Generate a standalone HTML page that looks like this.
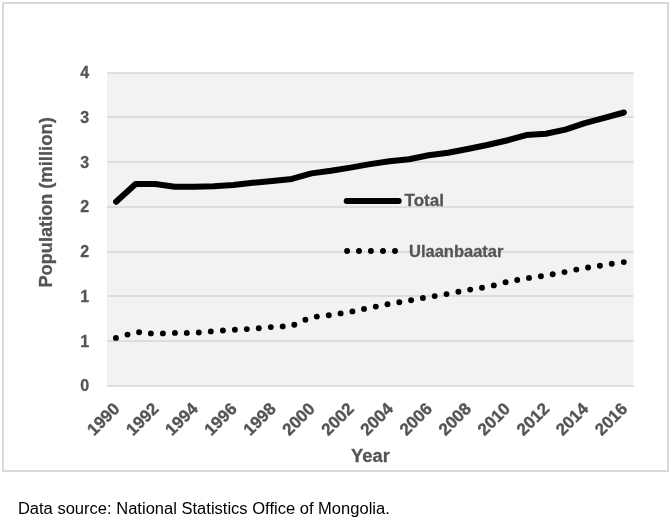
<!DOCTYPE html>
<html lang="en">
<head>
<meta charset="utf-8">
<title>Population of Mongolia and Ulaanbaatar</title>
<style>
html,body{margin:0;padding:0;background:#fff;}
body{width:672px;height:521px;overflow:hidden;position:relative;font-family:"Liberation Sans",sans-serif;}
svg{position:absolute;left:0;top:0;display:block;}
.lbl{font-family:"Liberation Sans",sans-serif;font-weight:bold;fill:#555555;stroke:#555555;stroke-width:0.3px;stroke-linejoin:round;}
.tick{font-size:16px;}
.xt{font-size:17px;stroke-width:0.35px;}
.ttl{font-size:18px;}
.cap{font-family:"Liberation Sans",sans-serif;font-size:16px;fill:#000;}
</style>
</head>
<body>
<svg width="672" height="521" viewBox="0 0 672 521">
<rect x="0" y="0" width="672" height="521" fill="#ffffff"/>
<rect x="3" y="3" width="665" height="468" fill="#ffffff" stroke="#d9d9d9" stroke-width="2"/>
<rect x="107.0" y="73.0" width="526.6" height="313.0" fill="#f2f2f2"/>
<g stroke="#d6d6d6" stroke-width="1.7" fill="none">
<line x1="107.0" y1="73.00" x2="633.6" y2="73.00"/>
<line x1="107.0" y1="117.00" x2="633.6" y2="117.00"/>
<line x1="107.0" y1="162.00" x2="633.6" y2="162.00"/>
<line x1="107.0" y1="207.00" x2="633.6" y2="207.00"/>
<line x1="107.0" y1="252.00" x2="633.6" y2="252.00"/>
<line x1="107.0" y1="296.00" x2="633.6" y2="296.00"/>
<line x1="107.0" y1="341.00" x2="633.6" y2="341.00"/>
<line x1="107.0" y1="386.00" x2="633.6" y2="386.00"/>
</g>
<g class="lbl tick" text-anchor="end">
<text x="89.1" y="77.70">4</text>
<text x="89.1" y="122.70">3</text>
<text x="89.1" y="167.70">3</text>
<text x="89.1" y="211.70">2</text>
<text x="89.1" y="256.70">2</text>
<text x="89.1" y="301.60">1</text>
<text x="89.1" y="346.60">1</text>
<text x="89.1" y="390.80">0</text>
</g>
<g class="lbl xt" text-anchor="end">
<text transform="translate(120.70 409.80) rotate(-45)" x="0" y="0">1990</text>
<text transform="translate(159.76 409.80) rotate(-45)" x="0" y="0">1992</text>
<text transform="translate(198.82 409.80) rotate(-45)" x="0" y="0">1994</text>
<text transform="translate(237.88 409.80) rotate(-45)" x="0" y="0">1996</text>
<text transform="translate(276.94 409.80) rotate(-45)" x="0" y="0">1998</text>
<text transform="translate(316.00 409.80) rotate(-45)" x="0" y="0">2000</text>
<text transform="translate(355.06 409.80) rotate(-45)" x="0" y="0">2002</text>
<text transform="translate(394.12 409.80) rotate(-45)" x="0" y="0">2004</text>
<text transform="translate(433.18 409.80) rotate(-45)" x="0" y="0">2006</text>
<text transform="translate(472.24 409.80) rotate(-45)" x="0" y="0">2008</text>
<text transform="translate(511.30 409.80) rotate(-45)" x="0" y="0">2010</text>
<text transform="translate(550.36 409.80) rotate(-45)" x="0" y="0">2012</text>
<text transform="translate(589.42 409.80) rotate(-45)" x="0" y="0">2014</text>
<text transform="translate(628.48 409.80) rotate(-45)" x="0" y="0">2016</text>
</g>
<text class="lbl ttl" text-anchor="middle" x="370.5" y="461.9" textLength="38.8" lengthAdjust="spacingAndGlyphs">Year</text>
<text class="lbl ttl" transform="translate(51.5 287.5) rotate(-90)"><tspan x="0" y="0" textLength="93.9" lengthAdjust="spacingAndGlyphs">Population</tspan> <tspan x="98.7" y="0" textLength="71.7" lengthAdjust="spacingAndGlyphs">(million)</tspan></text>
<polyline points="116.1,201.8 135.6,184.0 155.2,184.0 174.7,186.8 194.2,186.8 213.8,186.2 233.3,185.1 252.8,182.8 272.3,180.9 291.9,178.9 311.4,173.4 330.9,170.8 350.5,167.6 370.0,164.1 389.5,161.2 409.1,159.2 428.6,155.2 448.1,152.8 467.6,149.0 487.2,145.0 506.7,140.5 526.2,135.1 545.8,133.8 565.3,129.6 584.8,123.1 604.4,117.9 623.9,112.5" fill="none" stroke="#000" stroke-width="6" stroke-linecap="round" stroke-linejoin="round"/>
<g fill="#000">
<circle cx="115.9" cy="337.9" r="2.95"/>
<circle cx="127.5" cy="334.6" r="2.95"/>
<circle cx="139.1" cy="332.3" r="2.95"/>
<circle cx="150.9" cy="333.4" r="2.95"/>
<circle cx="162.9" cy="333.4" r="2.95"/>
<circle cx="174.9" cy="332.9" r="2.95"/>
<circle cx="186.8" cy="332.9" r="2.95"/>
<circle cx="198.8" cy="332.5" r="2.95"/>
<circle cx="210.8" cy="331.4" r="2.95"/>
<circle cx="222.9" cy="330.5" r="2.95"/>
<circle cx="234.9" cy="329.8" r="2.95"/>
<circle cx="246.8" cy="329.1" r="2.95"/>
<circle cx="258.8" cy="328.2" r="2.95"/>
<circle cx="270.8" cy="327.1" r="2.95"/>
<circle cx="282.7" cy="326.4" r="2.95"/>
<circle cx="294.3" cy="324.8" r="2.95"/>
<circle cx="305.4" cy="319.8" r="2.95"/>
<circle cx="316.8" cy="316.6" r="2.95"/>
<circle cx="328.8" cy="315.2" r="2.95"/>
<circle cx="340.6" cy="313.4" r="2.95"/>
<circle cx="352.4" cy="311.4" r="2.95"/>
<circle cx="364.0" cy="308.9" r="2.95"/>
<circle cx="375.8" cy="306.6" r="2.95"/>
<circle cx="387.5" cy="304.3" r="2.95"/>
<circle cx="399.3" cy="302.3" r="2.95"/>
<circle cx="411.1" cy="300.2" r="2.95"/>
<circle cx="422.9" cy="298.0" r="2.95"/>
<circle cx="434.7" cy="296.1" r="2.95"/>
<circle cx="446.5" cy="294.1" r="2.95"/>
<circle cx="458.4" cy="291.8" r="2.95"/>
<circle cx="470.2" cy="289.6" r="2.95"/>
<circle cx="482.0" cy="287.7" r="2.95"/>
<circle cx="493.8" cy="285.4" r="2.95"/>
<circle cx="505.6" cy="282.3" r="2.95"/>
<circle cx="517.2" cy="280.0" r="2.95"/>
<circle cx="529.0" cy="277.9" r="2.95"/>
<circle cx="540.9" cy="276.3" r="2.95"/>
<circle cx="552.7" cy="274.3" r="2.95"/>
<circle cx="564.5" cy="272.1" r="2.95"/>
<circle cx="576.3" cy="269.6" r="2.95"/>
<circle cx="588.1" cy="267.5" r="2.95"/>
<circle cx="599.9" cy="265.7" r="2.95"/>
<circle cx="611.8" cy="263.8" r="2.95"/>
<circle cx="623.8" cy="262.1" r="2.95"/>
</g>
<line x1="346.7" y1="200.9" x2="398.7" y2="200.9" stroke="#000" stroke-width="6" stroke-linecap="round"/>
<text class="lbl tick" x="404.5" y="205.9" textLength="39.4" lengthAdjust="spacingAndGlyphs">Total</text>
<g fill="#000">
<circle cx="347.1" cy="251.0" r="2.95"/>
<circle cx="359.0" cy="251.0" r="2.95"/>
<circle cx="370.9" cy="251.0" r="2.95"/>
<circle cx="383.0" cy="251.0" r="2.95"/>
<circle cx="395.0" cy="251.0" r="2.95"/>
</g>
<text class="lbl tick" x="409.0" y="256.6" textLength="94.4" lengthAdjust="spacingAndGlyphs">Ulaanbaatar</text>
<text class="cap" x="17.9" y="513.8" textLength="371.9" lengthAdjust="spacingAndGlyphs">Data source: National Statistics Office of Mongolia.</text>
</svg>
</body>
</html>
